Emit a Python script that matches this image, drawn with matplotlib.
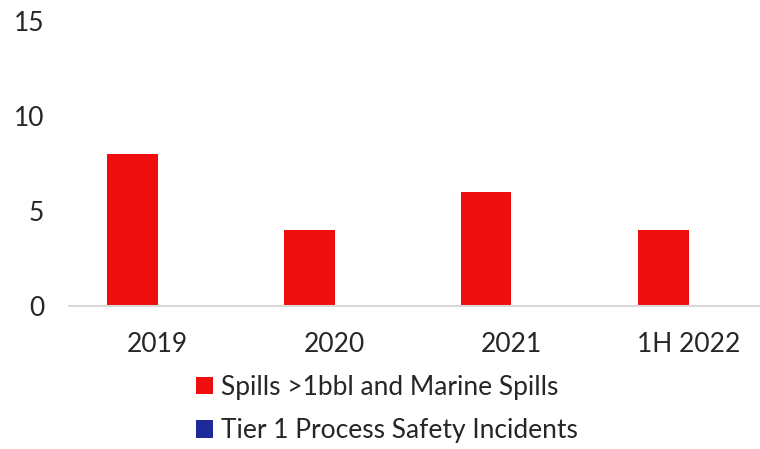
import numpy as np
import matplotlib.pyplot as plt

categories = ["2019", "2020", "2021", "1H 2022"]
spills = [8, 4, 6, 4]
tier1 = [0, 0, 0, 0]
labels = ["Spills >1bbl and Marine Spills", "Tier 1 Process Safety Incidents"]

red = "#ee0e0e"
blue = "#1f2a9a"
txt = "#262626"

plt.rcParams['font.family'] = ['Lato', 'DejaVu Sans']

fig = plt.figure(figsize=(7.6, 4.49), dpi=100)
W, H = 760, 449
ax = fig.add_axes([69 / W, 143 / H, 708 / W, 285 / H])

x = np.arange(len(categories))
w = 0.285
b1 = ax.bar(x - w / 2, spills, w, color=red, label=labels[0])
b2 = ax.bar(x + w / 2, tier1, w, color=blue, label=labels[1])

ax.set_xlim(-0.5, 3.5)
ax.set_ylim(0, 15)
ax.set_yticks([0, 5, 10, 15])
ax.set_xticks(x)
ax.set_xticklabels(categories)
ax.tick_params(axis='both', length=0, labelsize=19, colors=txt)
ax.tick_params(axis='y', pad=18)
ax.tick_params(axis='x', pad=19)
for s in ["top", "right", "left"]:
    ax.spines[s].set_visible(False)
ax.spines["bottom"].set_color("#d9d9d9")
ax.spines["bottom"].set_linewidth(1.5)

fig.legend(handles=[b1, b2], labels=labels, loc="upper left",
           bbox_to_anchor=(172 / W, 1 - 351 / H), frameon=False, ncol=1,
           fontsize=19, handlelength=0.65, handleheight=0.65, handletextpad=0.3,
           labelspacing=0.7, labelcolor=txt)

fig.savefig("out.png", dpi=100)
